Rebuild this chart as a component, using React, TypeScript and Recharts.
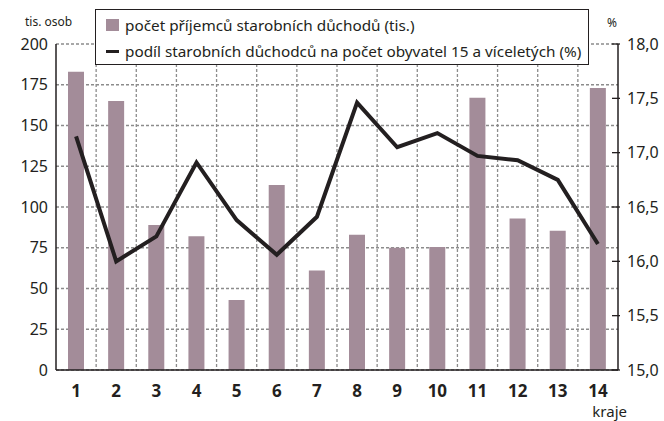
import React from 'react';
import {
  ComposedChart,
  Bar,
  Line,
  XAxis,
  YAxis,
  CartesianGrid,
} from 'recharts';

const regions = ['1', '2', '3', '4', '5', '6', '7', '8', '9', '10', '11', '12', '13', '14'];
const recipients = [183, 165, 89, 82, 43, 113.5, 61, 83, 75, 75.5, 167, 93, 85.5, 173];
const share = [17.15, 16.0, 16.23, 16.91, 16.38, 16.06, 16.41, 17.46, 17.05, 17.18, 16.97, 16.93, 16.75, 16.16];
const leftTicks = [0, 25, 50, 75, 100, 125, 150, 175, 200];
const rightTicks = [15, 15.5, 16, 16.5, 17, 17.5, 18];

const barName = 'počet příjemců starobních důchodů (tis.)';
const lineName = 'podíl starobních důchodců na počet obyvatel 15 a víceletých (%)';
const leftUnit = 'tis. osob';
const rightUnit = '%';
const xTitle = 'kraje';

const data = regions.map((r, i) => ({ kraj: r, pocet: recipients[i], podil: share[i] }));

const FONT = '"Noto Sans", "Open Sans", sans-serif';
const INK = '#231f20';
const BAR = '#a38c99';
const GRID = '#8c8c8c';

const fmtComma = (v: number) => v.toFixed(1).replace('.', ',');

const RightTick = (props: any) => {
  const { x, y, payload } = props;
  return (
    <g>
      <line x1={x - 6} x2={x + 2} y1={y} y2={y} stroke={INK} strokeWidth={1.3} />
      <text x={x + 9} y={y} dy="0.36em" textAnchor="start" fontSize={16} fontFamily={FONT} fill={INK}>
        {fmtComma(payload.value)}
      </text>
    </g>
  );
};

const boundaryGenerator = (props: any) => {
  const offset = props && props.offset;
  const scale = props && props.xAxis && props.xAxis.scale;
  if (typeof scale === 'function') {
    const pts = regions.slice(1).map((r) => scale(r));
    if (pts.every((v: any) => typeof v === 'number' && isFinite(v))) return pts;
  }
  if (offset) {
    const step = offset.width / regions.length;
    return regions.slice(1).map((_, i) => offset.left + step * (i + 1));
  }
  return [];
};

const textStyle: React.CSSProperties = {
  position: 'absolute',
  fontFamily: FONT,
  color: INK,
  whiteSpace: 'nowrap',
};

export default function App() {
  return (
    <div style={{ position: 'absolute', left: 0, top: 0, width: 664, height: 421, background: '#fff' }}>
      <ComposedChart
        width={664}
        height={421}
        data={data}
        margin={{ top: 44, right: 0, bottom: 0, left: 0 }}
        barCategoryGap={0}
      >
        <CartesianGrid
          stroke={GRID}
          strokeWidth={1.3}
          strokeDasharray="3 2"
          verticalCoordinatesGenerator={boundaryGenerator}
        />
        <XAxis
          dataKey="kraj"
          height={51}
          axisLine={{ stroke: INK, strokeWidth: 1.5 }}
          tickLine={false}
          tickSize={0}
          tickMargin={15}
          interval={0}
          tick={{ fontSize: 17, fontWeight: 700, fill: INK, fontFamily: FONT }}
        />
        <YAxis
          width={56}
          domain={[0, 200]}
          ticks={leftTicks}
          axisLine={{ stroke: INK, strokeWidth: 1.5 }}
          tickLine={false}
          tickSize={0}
          tickMargin={8}
          tick={{ fontSize: 16, fill: INK, fontFamily: FONT }}
        />
        <YAxis
          yAxisId="right"
          orientation="right"
          width={46}
          domain={[15, 18]}
          ticks={rightTicks}
          axisLine={{ stroke: INK, strokeWidth: 1.5 }}
          tickLine={false}
          tickSize={0}
          tickMargin={0}
          tick={<RightTick />}
        />
        <Bar dataKey="pocet" name={barName} fill={BAR} barSize={16} isAnimationActive={false} />
        <Line
          yAxisId="right"
          dataKey="podil"
          name={lineName}
          type="linear"
          stroke={INK}
          strokeWidth={4}
          dot={false}
          activeDot={false}
          isAnimationActive={false}
        />
      </ComposedChart>

      <div style={{ ...textStyle, left: 25, top: 16, fontSize: 12, lineHeight: '12px' }}>{leftUnit}</div>
      <div style={{ ...textStyle, left: 607, top: 17, fontSize: 12, lineHeight: '12px' }}>{rightUnit}</div>
      <div style={{ ...textStyle, right: 37, top: 404, fontSize: 15, lineHeight: '15px', textAlign: 'right' }}>{xTitle}</div>

      <div
        style={{
          position: 'absolute',
          top: 9,
          left: 95,
          width: 494,
          height: 56,
          border: `1px solid ${INK}`,
          background: '#fff',
          boxSizing: 'border-box',
          padding: '2px 0 0 10px',
          fontFamily: FONT,
          fontSize: 15.3,
          color: INK,
          lineHeight: '26px',
        }}
      >
        <div style={{ display: 'flex', alignItems: 'center', height: 26 }}>
          <span style={{ display: 'inline-block', width: 13, height: 12, background: BAR, marginRight: 6 }} />
          <span style={{ whiteSpace: 'nowrap' }}>{barName}</span>
        </div>
        <div style={{ display: 'flex', alignItems: 'center', height: 26 }}>
          <span style={{ display: 'inline-block', width: 13, height: 3, background: INK, marginRight: 6 }} />
          <span style={{ whiteSpace: 'nowrap' }}>{lineName}</span>
        </div>
      </div>
    </div>
  );
}
